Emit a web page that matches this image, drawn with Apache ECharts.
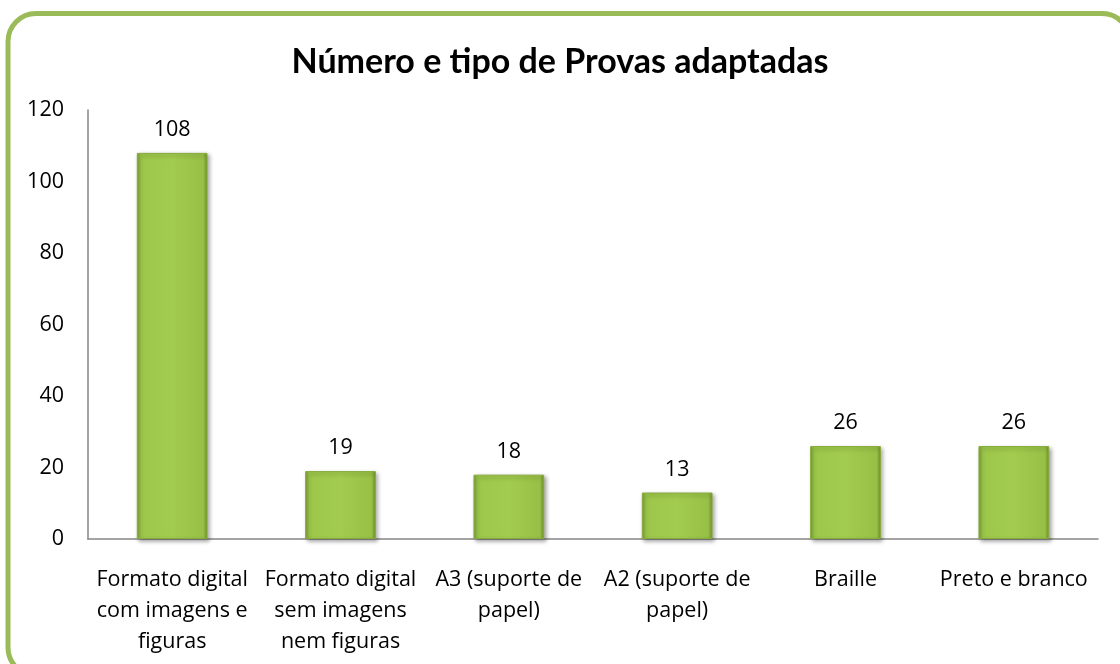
<!DOCTYPE html>
<html>
<head>
<meta charset="utf-8">
<script src="https://cdn.jsdelivr.net/npm/echarts@6/dist/echarts.min.js"></script>
<style>
  html, body { margin: 0; padding: 0; background: #fff; }
  #chart { width: 1120px; height: 664px; }
</style>
</head>
<body>
<div id="chart"></div>
<script>
var categories = [
  'Formato digital\ncom imagens e\nfiguras',
  'Formato digital\nsem imagens\nnem figuras',
  'A3 (suporte de\npapel)',
  'A2 (suporte de\npapel)',
  'Braille',
  'Preto e branco'
];
var values = [108, 19, 18, 13, 26, 26];
var yTicks = { min: 0, max: 120, interval: 20 };

var font = '"Open Sans", Lato, sans-serif';
var myChart = echarts.init(document.getElementById('chart'));

// gradiente das barras (bordas chanfradas mais escuras)
var barColor = new echarts.graphic.LinearGradient(0, 0, 1, 0, [
  { offset: 0, color: '#7a9c32' },
  { offset: 0.06, color: '#9cc74b' },
  { offset: 0.5, color: '#a2cc4e' },
  { offset: 0.94, color: '#97c046' },
  { offset: 1, color: '#6f8f2a' }
]);

var option = {
  backgroundColor: '#fff',
  textStyle: { fontFamily: font },
  title: {
    text: 'Número e tipo de Provas adaptadas',
    left: 'center',
    top: 40,
    textStyle: { fontFamily: 'Lato, sans-serif', fontSize: 34, fontWeight: 'bold', color: '#000' }
  },
  graphic: [{
    type: 'rect',
    shape: { x: 8, y: 13.5, width: 1122, height: 662, r: 28 },
    style: { fill: 'none', stroke: '#9bbb59', lineWidth: 5 },
    z: 100
  }],
  grid: { left: 88, right: 22, top: 110, bottom: 125 },
  xAxis: {
    type: 'category',
    data: categories,
    axisLine: { show: true, lineStyle: { color: '#868686', width: 1.5 } },
    axisTick: { show: false },
    axisLabel: {
      color: '#000', fontSize: 21.5, fontFamily: font, interval: 0,
      margin: 25, lineHeight: 31
    }
  },
  yAxis: {
    type: 'value',
    min: yTicks.min,
    max: yTicks.max,
    interval: yTicks.interval,
    axisLine: { show: true, lineStyle: { color: '#868686', width: 1.5 } },
    axisTick: { show: false },
    splitLine: { show: false },
    axisLabel: { color: '#000', fontSize: 21.5, fontFamily: font, margin: 24 }
  },
  series: [{
    type: 'bar',
    data: values,
    barWidth: '42%',
    itemStyle: {
      color: barColor,
      borderColor: '#87ab3a',
      borderWidth: 1,
      shadowColor: 'rgba(0,0,0,0.35)',
      shadowBlur: 4,
      shadowOffsetX: 2,
      shadowOffsetY: 2
    },
    label: {
      show: true,
      position: 'top',
      distance: 12,
      color: '#000',
      fontSize: 21.5,
      fontFamily: font
    }
  }]
};

myChart.setOption(option);
</script>
</body>
</html>
